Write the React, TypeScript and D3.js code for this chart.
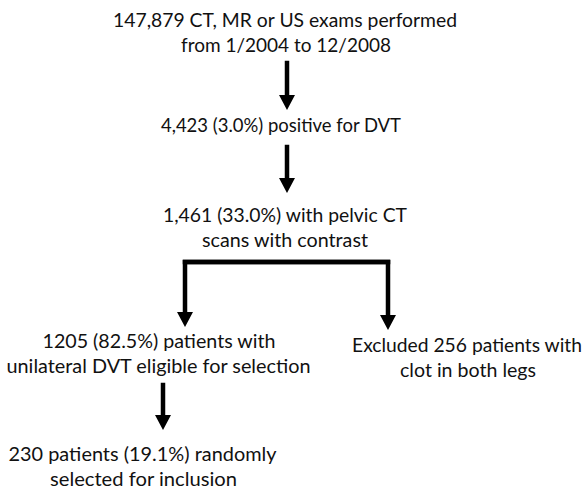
import React, { useEffect, useRef } from "react";
import * as d3 from "d3";

// ---- Data: flow steps (text content) ----
const stepTotal = ["147,879 CT, MR or US exams performed", "from 1/2004 to 12/2008"];
const stepPositive = ["4,423 (3.0%) positive for DVT"];
const stepPelvic = ["1,461 (33.0%) with pelvic CT", "scans with contrast"];
const stepEligible = ["1205 (82.5%) patients with", "unilateral DVT eligible for selection"];
const stepExcluded = ["Excluded 256 patients with", "clot in both legs"];
const stepSelected = ["230 patients (19.1%) randomly", "selected for inclusion"];

// ---- Layout (positions, not data) ----
const W = 586;
const H = 488;
const lineGap = 24.5;

type Block = { lines: string[]; cx: number[]; y: number; widths: number[] };
const blocks: Block[] = [
  { lines: stepTotal, cx: [285, 286], y: 27, widths: [344, 210] },
  { lines: stepPositive, cx: [281], y: 132, widths: [240] },
  { lines: stepPelvic, cx: [285, 285], y: 222, widths: [244, 166] },
  { lines: stepEligible, cx: [159, 158.5], y: 348, widths: [233, 304] },
  { lines: stepExcluded, cx: [467, 468], y: 352, widths: [230, 136] },
  { lines: stepSelected, cx: [142.5, 143.5], y: 461, widths: [268, 187] },
];

type Arrow = { pts: [number, number][] };
const arrows: Arrow[] = [
  { pts: [[287, 63], [287, 110]] },
  { pts: [[287, 147], [287, 193]] },
  { pts: [[388, 262], [185, 262], [185, 327]] },
  { pts: [[185, 262], [388, 262], [388, 330]] },
  { pts: [[163, 385], [163, 430]] },
];

export default function App() {
  const ref = useRef<SVGSVGElement>(null);
  useEffect(() => {
    const svg = d3.select(ref.current);
    svg.selectAll("*").remove();

    const headLen = 15;
    const headW = 16;
    const line = d3.line<[number, number]>().x((d) => d[0]).y((d) => d[1]);

    arrows.forEach((a) => {
      const pts = a.pts.slice();
      const tip = pts[pts.length - 1];
      const prev = pts[pts.length - 2];
      const dx = tip[0] - prev[0];
      const dy = tip[1] - prev[1];
      const len = Math.hypot(dx, dy);
      const ux = dx / len, uy = dy / len;
      const base: [number, number] = [tip[0] - ux * headLen, tip[1] - uy * headLen];
      const shaftPts = pts.slice(0, -1).concat([[base[0] + ux * 1, base[1] + uy * 1]]) as [number, number][];
      svg.append("path")
        .attr("d", line(shaftPts))
        .attr("fill", "none")
        .attr("stroke", "#000")
        .attr("stroke-width", 4.5)
        .attr("stroke-linejoin", "miter")
        .attr("stroke-linecap", "square");
      const px = -uy, py = ux;
      svg.append("path")
        .attr("d", `M${tip[0]},${tip[1]}L${base[0] + px * headW / 2},${base[1] + py * headW / 2}L${base[0] - px * headW / 2},${base[1] - py * headW / 2}Z`)
        .attr("fill", "#000");
    });

    blocks.forEach((b) => {
      b.lines.forEach((t, i) => {
        svg.append("text")
          .attr("x", b.cx[i])
          .attr("y", b.y + i * lineGap)
          .attr("text-anchor", "middle")
          .attr("font-family", "Lato, 'Open Sans', sans-serif")
          .attr("font-size", 18.5)
          .attr("fill", "#111")
          .attr("textLength", b.widths[i])
          .attr("lengthAdjust", "spacingAndGlyphs")
          .text(t);
      });
    });
  }, []);

  return (
    <svg
      ref={ref}
      width={W}
      height={H}
      viewBox={`0 0 ${W} ${H}`}
      style={{ position: "absolute", left: 0, top: 0, background: "#fff" }}
    />
  );
}
